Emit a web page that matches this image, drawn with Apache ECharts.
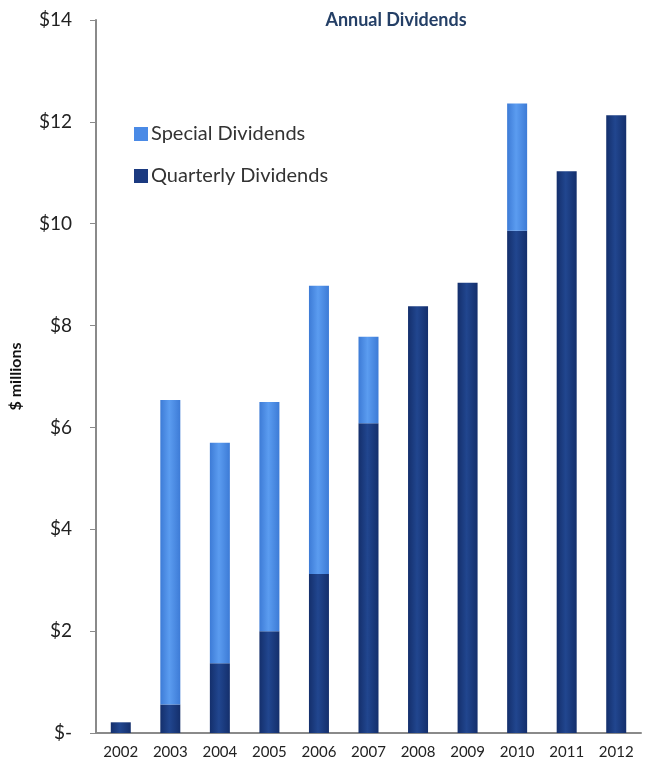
<!DOCTYPE html>
<html>
<head>
<meta charset="utf-8">
<script src="https://cdn.jsdelivr.net/npm/echarts@6/dist/echarts.min.js"></script>
<style>
html,body{margin:0;padding:0;background:#fff;}
#chart{width:645px;height:769px;}
</style>
</head>
<body>
<div id="chart"></div>
<script>
const years = ['2002','2003','2004','2005','2006','2007','2008','2009','2010','2011','2012'];
const quarterlyDividends = [0.21, 0.56, 1.37, 2.0, 3.12, 6.08, 8.38, 8.84, 9.86, 11.03, 12.13];
const specialDividends = [0, 5.98, 4.33, 4.5, 5.66, 1.70, 0, 0, 2.50, 0, 0];
const yTicks = [0, 2, 4, 6, 8, 10, 12, 14];

function grad(c1, c2) {
  return new echarts.graphic.LinearGradient(0, 0, 1, 0, [
    {offset: 0, color: c1},
    {offset: 0.45, color: c2},
    {offset: 1, color: c1}
  ]);
}

const chart = echarts.init(document.getElementById('chart'));
const FONT = 'Lato, "Open Sans", sans-serif';
chart.setOption({
  animation: false,
  backgroundColor: '#ffffff',
  title: {
    text: 'Annual Dividends',
    left: 391, top: 6, textAlign: 'center',
    textStyle: {fontFamily: FONT, fontSize: 18, fontWeight: 'bold', color: '#243f66'}
  },
  legend: {
    orient: 'vertical',
    left: 129, top: 119,
    itemGap: 22,
    itemWidth: 14, itemHeight: 14,
    icon: 'rect',
    textStyle: {fontFamily: FONT, fontSize: 20, color: '#333', padding: [0, 0, 0, -2]},
    data: [
      {name: 'Special Dividends', itemStyle: {color: '#4a8ae6'}},
      {name: 'Quarterly Dividends', itemStyle: {color: '#1b3a80'}}
    ]
  },
  grid: {left: 94, right: 4, top: 20, bottom: 36, containLabel: false},
  xAxis: {
    type: 'category',
    data: years,
    axisLine: {lineStyle: {color: '#8a8a8a', width: 2}},
    axisTick: {show: false},
    axisLabel: {fontFamily: FONT, fontSize: 15, color: '#222', margin: 12}
  },
  yAxis: {
    type: 'value',
    min: 0, max: 14, interval: 2,
    name: '$ millions',
    nameLocation: 'middle',
    nameGap: 72,
    nameTextStyle: {fontFamily: FONT, fontSize: 16, fontWeight: 'bold', color: '#111'},
    axisLine: {show: true, lineStyle: {color: '#8a8a8a', width: 2}},
    axisTick: {show: true, length: 6, lineStyle: {color: '#8a8a8a'}},
    splitLine: {show: false},
    axisLabel: {
      fontFamily: FONT, fontSize: 19, color: '#222', margin: 24,
      formatter: v => yTicks.includes(v) ? (v === 0 ? '$-' : '$' + v) : ''
    }
  },
  series: [
    {
      name: 'Quarterly Dividends',
      type: 'bar', stack: 'total', barWidth: 20,
      itemStyle: {color: grad('#142f6c', '#21468f')},
      data: quarterlyDividends
    },
    {
      name: 'Special Dividends',
      type: 'bar', stack: 'total', barWidth: 20,
      itemStyle: {color: grad('#3d7bd6', '#5b9cf0')},
      data: specialDividends
    }
  ]
});
</script>
</body>
</html>
